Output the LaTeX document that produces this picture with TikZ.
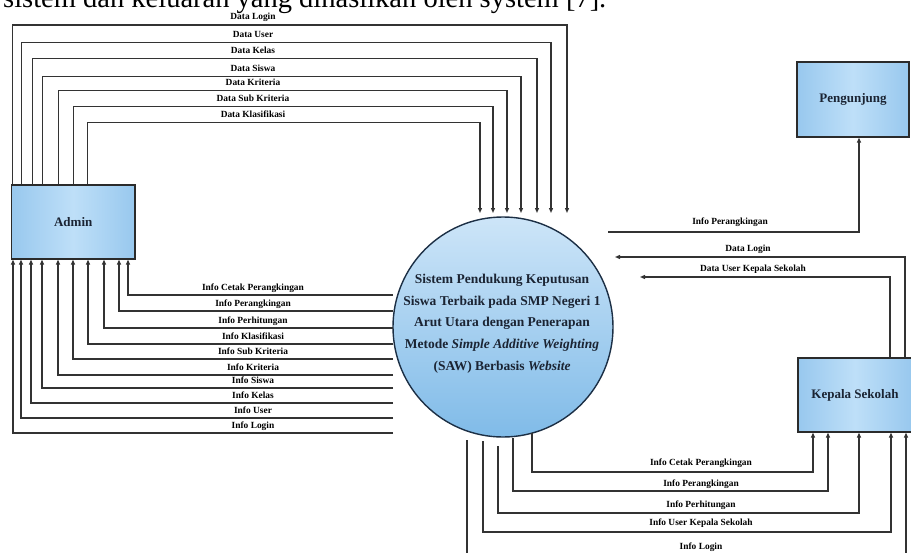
\documentclass[tikz,border=0pt]{standalone}
\usepackage{fontspec}
\setmainfont{Liberation Serif}
\usetikzlibrary{arrows.meta}
\definecolor{lineC}{HTML}{333333}
\definecolor{boxD}{HTML}{2B2B2B}
\definecolor{boxE}{HTML}{98C8EE}
\definecolor{boxM}{HTML}{BEDFF8}
\definecolor{cirT}{HTML}{CDE5F8}
\definecolor{cirB}{HTML}{80BBE8}
\definecolor{cirD}{HTML}{1C2F45}
\definecolor{textC}{HTML}{1B2433}
\begin{document}
\begin{tikzpicture}[x=1pt,y=-1pt,
  flow/.style={draw=lineC, line width=1.2pt, -{Triangle[length=5pt,width=4pt]}},
  plain/.style={draw=lineC, line width=1.2pt},
  lbl/.style={font=\fontsize{9.4}{11}\selectfont\bfseries, text=black, inner sep=0pt, text height=6.6pt, text depth=1.9pt},
  ent/.style={draw=boxD, line width=1.3pt, left color=boxE, right color=boxE, middle color=boxM,
              font=\fontsize{13}{15}\selectfont\bfseries, text=textC, inner sep=0pt},
  sysstyle/.style={circle, draw=cirD, line width=1.4pt, top color=cirT, bottom color=cirB, minimum size=220pt, inner sep=0pt}]
\useasboundingbox (0,0) rectangle (911,552);
\clip (0,0) rectangle (911,552);

% cropped caption text from the page
\node[anchor=base west, inner sep=0pt, font=\fontsize{28.5}{30}\selectfont] (caption) at (3,7.5) {sistem dan keluaran yang dihasilkan oleh system [7].};

% entities
\node[ent, minimum width=123.5pt, minimum height=74pt] (admin) at (73.25,222) {Admin};
\node[ent, minimum width=112pt, minimum height=75pt] (peng) at (853,99.5) {Pengunjung};
\node[ent, minimum width=114pt, minimum height=74pt] (kepala) at (855,395) {Kepala Sekolah};

% process
\node[sysstyle] (sys) at (503,327) {};
\node[align=center, inner sep=0pt, text=textC, font=\fontsize{13.5}{21.7}\selectfont\bfseries] (systext) at (502,323.5)
  {Sistem Pendukung Keputusan\\Siswa Terbaik pada SMP Negeri 1\\Arut Utara dengan Penerapan\\Metode \textit{Simple Additive Weighting}\\(SAW) Berbasis \textit{Website}};

% Admin -> system (data flows on top)
\foreach \xl/\yl/\xr/\lab [count=\i] in {
  12.3/25/567/Data Login,
  21.7/42.7/551/Data User,
  32.3/58.3/537/Data Kelas,
  42.7/76.7/521/Data Siswa,
  58.3/90.7/507/Data Kriteria,
  73.3/106.7/493/Data Sub Kriteria,
  87.3/122.7/480/Data Klasifikasi}{
  \coordinate (dcol\i) at (\xl,0);
  \coordinate (din\i) at (\xr,213);
  \draw[flow] (admin.north -| dcol\i) -- (\xl,\yl) -- (\xr,\yl) -- (din\i);
  \node[lbl] (dlab\i) at (253,\yl-7.5) {\lab};
}

% system -> Admin (info flows below)
\foreach \xv/\yl/\lab [count=\i] in {
  128/295/Info Cetak Perangkingan,
  119/311/Info Perangkingan,
  104/328/Info Perhitungan,
  88/344/Info Klasifikasi,
  73/359/Info Sub Kriteria,
  58/375/Info Kriteria,
  42/388/Info Siswa,
  31/403/Info Kelas,
  21/418/Info User,
  13/433/Info Login}{
  \coordinate (acol\i) at (\xv,0);
  \coordinate (aout\i) at (393,\yl);
  \draw[flow] (aout\i) -- (\xv,\yl) -- (admin.south -| acol\i);
  \node[lbl] (alab\i) at (253,\yl-7) {\lab};
}

% system -> Pengunjung
\coordinate (pgOut) at (608,232);
\coordinate (pgCol) at (859,0);
\draw[flow] (pgOut) -- (859,232) -- (peng.south -| pgCol);
\node[lbl] (pglab) at (730,222) {Info Perangkingan};

% Kepala Sekolah -> system
\coordinate (kc1) at (905,0);
\coordinate (kin1) at (615,257);
\draw[flow] (kepala.north -| kc1) -- (905,257) -- (kin1);
\node[lbl] (klab1) at (748,249) {Data Login};
\coordinate (kc2) at (890,0);
\coordinate (kin2) at (640,277);
\draw[flow] (kepala.north -| kc2) -- (890,277) -- (kin2);
\node[lbl] (klab2) at (753,269) {Data User Kepala Sekolah};

% system -> Kepala Sekolah
\foreach \xs/\ys/\yl/\xe/\ly/\lab [count=\i] in {
  532/433/472/813/463/Info Cetak Perangkingan,
  513/438/491/828/484/Info Perangkingan,
  498/446/513/859/505/Info Perhitungan,
  483/441/532/891/523/Info User Kepala Sekolah,
  467/440/556/906/547/Info Login}{
  \coordinate (bout\i) at (\xs,\ys);
  \coordinate (bcol\i) at (\xe,0);
  \draw[flow] (bout\i) -- (\xs,\yl) -- (\xe,\yl) -- (kepala.south -| bcol\i);
  \node[lbl] (blab\i) at (701,\ly) {\lab};
}
\end{tikzpicture}
\end{document}
